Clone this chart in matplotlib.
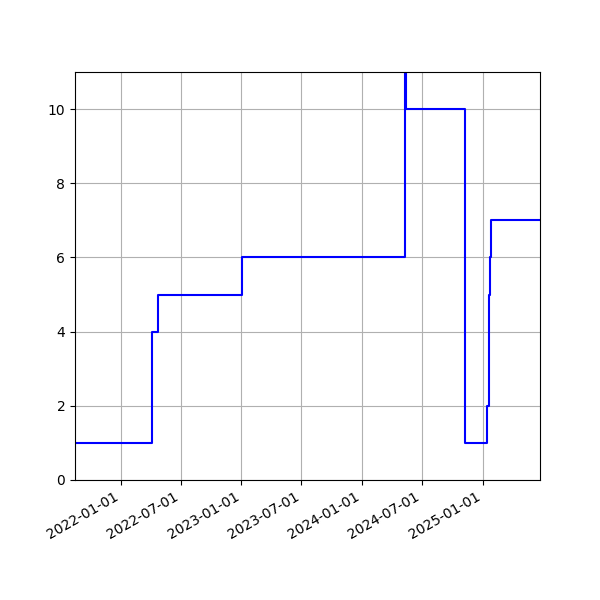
import numpy as np
import pandas as pd
import matplotlib
matplotlib.use("Agg")
import matplotlib.pyplot as plt
import matplotlib.dates as mdates

# change points of the step series (value holds until next date)
change_dates = ["2021-08-15", "2022-04-05", "2022-04-23", "2023-01-03",
                "2024-05-10", "2024-05-14", "2024-11-08", "2025-01-13",
                "2025-01-19", "2025-01-24", "2025-01-27", "2025-06-23"]
values = [1, 4, 5, 6, 14, 10, 1, 2, 5, 6, 7, 7]

dates = pd.to_datetime(change_dates)

fig, ax = plt.subplots(figsize=(6, 6), dpi=100)
ax.step(dates, values, where="post", color="blue")
ax.set_xlim(dates[0], dates[-1])
ax.set_ylim(0, 11)
ax.xaxis.set_major_locator(mdates.MonthLocator(bymonth=[1, 7]))
ax.xaxis.set_major_formatter(mdates.DateFormatter("%Y-%m-%d"))
ax.grid(True)
fig.autofmt_xdate()
fig.savefig("out.png")
